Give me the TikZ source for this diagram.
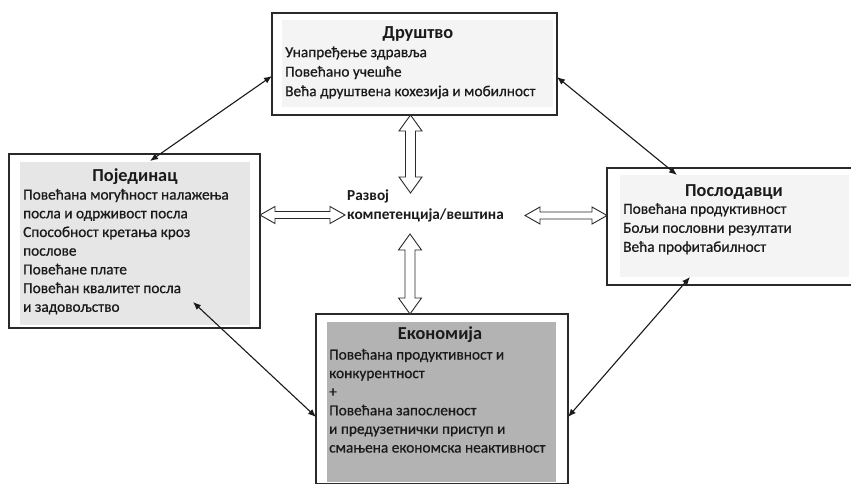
\documentclass[tikz,border=0pt]{standalone}
\usepackage{fontspec}
\setmainfont{Carlito}
\newfontface\bodyface{Carlito}[FakeBold=0.7]
\usetikzlibrary{arrows.meta,calc}
\definecolor{frame}{HTML}{2A2A2A}
\definecolor{ink}{HTML}{1A1A1A}
\definecolor{fillA}{HTML}{F4F4F4}
\definecolor{fillB}{HTML}{E6E6E6}
\definecolor{fillC}{HTML}{B3B3B3}
\tikzset{
  box/.style={draw=frame, line width=1.6pt, inner sep=0pt, outer sep=0pt},
  title/.style={font=\fontsize{18.3}{20}\selectfont\bfseries, text=ink, inner sep=0pt, anchor=base},
  body/.style={text=ink, inner sep=0pt, anchor=north west, align=left},
  biarrow/.style={draw=ink, line width=1.1pt, {Latex[length=8pt,width=6.5pt]}-{Latex[length=8pt,width=6.5pt]}},
  hollowv/.style={draw=frame, line width=0.9pt, fill=white, line join=miter,
    to path={let \p1=(\tikztostart), \p2=(\tikztotarget) in
      (\x1,\y1) -- (\x1+11.5pt,\y1-16pt) -- (\x1+5pt,\y1-16pt) -- (\x1+5pt,\y2+16pt) -- (\x1+11.5pt,\y2+16pt)
      -- (\x1,\y2) -- (\x1-11.5pt,\y2+16pt) -- (\x1-5pt,\y2+16pt) -- (\x1-5pt,\y1-16pt) -- (\x1-11.5pt,\y1-16pt) -- cycle}},
  hollowh/.style={draw=frame, line width=0.9pt, fill=white, line join=miter,
    to path={let \p1=(\tikztostart), \p2=(\tikztotarget) in
      (\x1,\y1) -- (\x1+15pt,\y1+8.5pt) -- (\x1+15pt,\y1+3.5pt) -- (\x2-15pt,\y1+3.5pt) -- (\x2-15pt,\y1+8.5pt)
      -- (\x2,\y1) -- (\x2-15pt,\y1-8.5pt) -- (\x2-15pt,\y1-3.5pt) -- (\x1+15pt,\y1-3.5pt) -- (\x1+15pt,\y1-8.5pt) -- cycle}},
}
\begin{document}
\begin{tikzpicture}[x=1pt,y=-1pt]
\useasboundingbox (0,0) rectangle (851,484);
\fill[white] (0,0) rectangle (851,484);

% outer frames
\node[box, minimum width=285pt, minimum height=102pt] (top) at (414.5,64) {};
\node[box, minimum width=251pt, minimum height=174pt] (left) at (134.5,241) {};
\node[box, minimum width=246pt, minimum height=117pt] (right) at (730,226.5) {};
\node[box, minimum width=252pt, minimum height=170pt] (bottom) at (442,399) {};

% inner fills
\fill[fillA] (282,20) rectangle (553,107);
\fill[fillB] (20,162) rectangle (250,325);
\fill[fillA] (620,175) rectangle (849,277);
\fill[fillC] (327,322) rectangle (556,482);

% titles
\node[title] (toptitle) at (418,39) {Друштво};
\node[title] (lefttitle) at (135,181) {Појединац};
\node[title] (righttitle) at (734,196) {Послодавци};
\node[title] (bottomtitle) at (440,339) {Економија};

% bodies
\node[body, font=\fontsize{15.3}{19.5}\selectfont\bodyface] (toptext) at (285,43.3)
  {\strut Унапређење здравља\\Повећано учешће\\Већа друштвена кохезија и мобилност};
\node[body, font=\fontsize{15.3}{18.7}\selectfont\bodyface] (lefttext) at (23,186.3)
  {\strut Повећана могућност налажења\\посла и одрживост посла\\Способност кретања кроз\\послове\\Повећане плате\\Повећан квалитет посла\\и задовољство};
\node[body, font=\fontsize{15.3}{19}\selectfont\bodyface] (righttext) at (623,200.3)
  {\strut Повећана продуктивност\\Бољи пословни резултати\\Већа профитабилност};
\node[body, font=\fontsize{15.3}{18.6}\selectfont\bodyface] (bottomtext) at (329,346.3)
  {\strut Повећана продуктивност и\\конкурентност\\+\\Повећана запосленост\\и предузетнички приступ и\\смањена економска неактивност};

% centre
\node[body, font=\fontsize{15.3}{19}\selectfont\bfseries] (skill) at (347,187.3)
  {\strut Развој\\компетенција/вештина};

% hollow double arrows
\draw[hollowv] ([xshift=-4pt]top.south) to ([xshift=-4pt,yshift=-78pt]top.south);
\draw[hollowv] ([xshift=-32pt,yshift=80pt]bottom.north) to ([xshift=-32pt]bottom.north);
\draw[hollowh] ([yshift=26pt]left.east) to ([xshift=-2pt,yshift=-27.5pt]skill.west);
\draw[hollowh] ([xshift=-82pt,yshift=11pt]right.west) to ([yshift=11pt]right.west);

% diagonal arrows
\draw[biarrow] ([xshift=15.5pt,yshift=-7pt]left.north) -- ([yshift=-12pt]top.west);
\draw[biarrow] ([yshift=-13pt]top.east) -- ([xshift=-53pt,yshift=-7pt]right.north);
\draw[biarrow] ([xshift=58.5pt,yshift=26pt]left.south) -- ([yshift=-18pt]bottom.west);
\draw[biarrow] ([xshift=-40pt,yshift=8pt]right.south) -- ([yshift=-18pt]bottom.east);
\end{tikzpicture}
\end{document}
